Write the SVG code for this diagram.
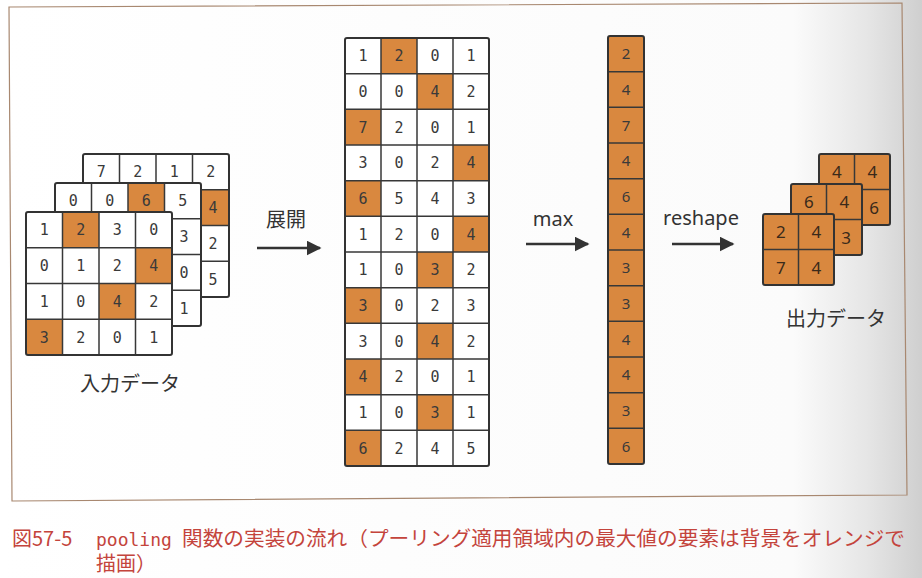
<svg xmlns="http://www.w3.org/2000/svg" width="922" height="578" viewBox="0 0 922 578">
<defs>
<linearGradient id="page" x1="0" y1="0" x2="1" y2="0">
<stop offset="0" stop-color="#ffffff"/>
<stop offset="0.86" stop-color="#fbfbfb"/>
<stop offset="0.94" stop-color="#e6e6e6"/>
<stop offset="1" stop-color="#cfcfcf"/>
</linearGradient>
<marker id="arr" viewBox="0 0 10 10" refX="9" refY="5" markerWidth="6" markerHeight="6" markerUnits="strokeWidth" orient="auto">
<path d="M0,0 L10,5 L0,10 z" fill="#333"/>
</marker>
</defs>
<style>
.w{fill:#ffffff}
.o{fill:#d9883f}
.g{fill:none;stroke:#383838;stroke-width:1.5}
.b{fill:none;stroke:#333;stroke-width:2}
.m{font-family:"DejaVu Sans Mono",monospace;font-size:15px;fill:#3a3a3a;text-anchor:middle}
.s{font-family:"Noto Sans","Liberation Sans",sans-serif;font-size:15px;fill:#3a3a3a;text-anchor:middle}
.so{font-family:"Noto Sans","Liberation Sans",sans-serif;font-size:17px;fill:#3a2a1a;text-anchor:middle}
.lbl{font-family:"Noto Sans","Noto Sans CJK JP",sans-serif;font-size:20px;fill:#333;text-anchor:middle}
.cap{font-family:"Noto Sans CJK JP",sans-serif;font-size:20px;fill:#c4443c}
.capm{font-family:"DejaVu Sans Mono","Liberation Mono",monospace;font-size:18px;fill:#c4443c}
.ln{stroke:#333;stroke-width:2.5;fill:none}
</style>
<rect x="0" y="0" width="922" height="578" fill="url(#page)"/>
<path d="M9,7 L902,3 L907,495 L12,501 Z" fill="none" stroke="#a88870" stroke-width="1.2"/>

<g id="input-data">
<g id="input-ch3">
<rect class="w" x="83" y="154" width="146" height="143"/>
<rect class="o" x="192.5" y="189.75" width="36.5" height="35.75"/>
<path class="g" d="M119.5,154V297M156,154V297M192.5,154V297M83,189.75H229M83,225.5H229M83,261.25H229"/>
<rect class="b" x="83" y="154" width="146" height="143" rx="2"/>
<text class="m" x="101.25" y="177.3">7</text>
<text class="m" x="137.75" y="177.3">2</text>
<text class="m" x="174.25" y="177.3">1</text>
<text class="m" x="210.75" y="177.3">2</text>
<text class="m" x="213" y="213">4</text>
<text class="m" x="213" y="248.8">2</text>
<text class="m" x="213" y="284.5">5</text>
</g>
<g id="input-ch2">
<rect class="w" x="55" y="183" width="146" height="143"/>
<rect class="o" x="128" y="183" width="36.5" height="35.75"/>
<path class="g" d="M91.5,183V326M128,183V326M164.5,183V326M55,218.75H201M55,254.5H201M55,290.25H201"/>
<rect class="b" x="55" y="183" width="146" height="143" rx="2"/>
<text class="m" x="73.25" y="206.3">0</text>
<text class="m" x="109.75" y="206.3">0</text>
<text class="m" x="146.25" y="206.3">6</text>
<text class="m" x="182.75" y="206.3">5</text>
<text class="m" x="184" y="242">3</text>
<text class="m" x="184" y="277.8">0</text>
<text class="m" x="184" y="313.5">1</text>
</g>
<g id="input-ch1">
<rect class="w" x="26" y="212" width="146" height="143"/>
<rect class="o" x="62.5" y="212" width="36.5" height="35.75"/>
<rect class="o" x="135.5" y="247.75" width="36.5" height="35.75"/>
<rect class="o" x="99" y="283.5" width="36.5" height="35.75"/>
<rect class="o" x="26" y="319.25" width="36.5" height="35.75"/>
<path class="g" d="M62.5,212V355M99,212V355M135.5,212V355M26,247.75H172M26,283.5H172M26,319.25H172"/>
<rect class="b" x="26" y="212" width="146" height="143" rx="2"/>
<text class="m" x="44.25" y="235.3">1</text>
<text class="m" x="80.75" y="235.3">2</text>
<text class="m" x="117.25" y="235.3">3</text>
<text class="m" x="153.75" y="235.3">0</text>
<text class="m" x="44.25" y="271">0</text>
<text class="m" x="80.75" y="271">1</text>
<text class="m" x="117.25" y="271">2</text>
<text class="m" x="153.75" y="271">4</text>
<text class="m" x="44.25" y="306.8">1</text>
<text class="m" x="80.75" y="306.8">0</text>
<text class="m" x="117.25" y="306.8">4</text>
<text class="m" x="153.75" y="306.8">2</text>
<text class="m" x="44.25" y="342.5">3</text>
<text class="m" x="80.75" y="342.5">2</text>
<text class="m" x="117.25" y="342.5">0</text>
<text class="m" x="153.75" y="342.5">1</text>
</g>
<text class="lbl" x="130" y="391">入力データ</text>
</g>

<g id="expanded">
<rect class="w" x="345" y="38" width="144" height="428"/>
<rect class="o" x="381" y="38" width="36" height="35.67"/>
<rect class="o" x="417" y="73.67" width="36" height="35.67"/>
<rect class="o" x="345" y="109.33" width="36" height="35.67"/>
<rect class="o" x="453" y="145" width="36" height="35.67"/>
<rect class="o" x="345" y="180.67" width="36" height="35.67"/>
<rect class="o" x="453" y="216.33" width="36" height="35.67"/>
<rect class="o" x="417" y="252" width="36" height="35.67"/>
<rect class="o" x="345" y="287.67" width="36" height="35.67"/>
<rect class="o" x="417" y="323.33" width="36" height="35.67"/>
<rect class="o" x="345" y="359" width="36" height="35.67"/>
<rect class="o" x="417" y="394.67" width="36" height="35.67"/>
<rect class="o" x="345" y="430.33" width="36" height="35.67"/>
<path class="g" d="M381,38V466M417,38V466M453,38V466M345,73.67H489M345,109.33H489M345,145H489M345,180.67H489M345,216.33H489M345,252H489M345,287.67H489M345,323.33H489M345,359H489M345,394.67H489M345,430.33H489"/>
<rect class="b" x="345" y="38" width="144" height="428" rx="2"/>
<text class="m" x="363" y="61.2">1</text><text class="m" x="399" y="61.2">2</text><text class="m" x="435" y="61.2">0</text><text class="m" x="471" y="61.2">1</text>
<text class="m" x="363" y="96.9">0</text><text class="m" x="399" y="96.9">0</text><text class="m" x="435" y="96.9">4</text><text class="m" x="471" y="96.9">2</text>
<text class="m" x="363" y="132.6">7</text><text class="m" x="399" y="132.6">2</text><text class="m" x="435" y="132.6">0</text><text class="m" x="471" y="132.6">1</text>
<text class="m" x="363" y="168.2">3</text><text class="m" x="399" y="168.2">0</text><text class="m" x="435" y="168.2">2</text><text class="m" x="471" y="168.2">4</text>
<text class="m" x="363" y="203.9">6</text><text class="m" x="399" y="203.9">5</text><text class="m" x="435" y="203.9">4</text><text class="m" x="471" y="203.9">3</text>
<text class="m" x="363" y="239.6">1</text><text class="m" x="399" y="239.6">2</text><text class="m" x="435" y="239.6">0</text><text class="m" x="471" y="239.6">4</text>
<text class="m" x="363" y="275.2">1</text><text class="m" x="399" y="275.2">0</text><text class="m" x="435" y="275.2">3</text><text class="m" x="471" y="275.2">2</text>
<text class="m" x="363" y="310.9">3</text><text class="m" x="399" y="310.9">0</text><text class="m" x="435" y="310.9">2</text><text class="m" x="471" y="310.9">3</text>
<text class="m" x="363" y="346.6">3</text><text class="m" x="399" y="346.6">0</text><text class="m" x="435" y="346.6">4</text><text class="m" x="471" y="346.6">2</text>
<text class="m" x="363" y="382.2">4</text><text class="m" x="399" y="382.2">2</text><text class="m" x="435" y="382.2">0</text><text class="m" x="471" y="382.2">1</text>
<text class="m" x="363" y="417.9">1</text><text class="m" x="399" y="417.9">0</text><text class="m" x="435" y="417.9">3</text><text class="m" x="471" y="417.9">1</text>
<text class="m" x="363" y="453.6">6</text><text class="m" x="399" y="453.6">2</text><text class="m" x="435" y="453.6">4</text><text class="m" x="471" y="453.6">5</text>
</g>

<g id="max-column">
<rect class="o" x="608" y="36" width="36" height="428"/>
<path class="g" d="M608,71.67H644M608,107.33H644M608,143H644M608,178.67H644M608,214.33H644M608,250H644M608,285.67H644M608,321.33H644M608,357H644M608,392.67H644M608,428.33H644"/>
<rect class="b" x="608" y="36" width="36" height="428" rx="2"/>
<text class="s" x="626" y="59.3">2</text>
<text class="s" x="626" y="95">4</text>
<text class="s" x="626" y="130.7">7</text>
<text class="s" x="626" y="166.3">4</text>
<text class="s" x="626" y="202">6</text>
<text class="s" x="626" y="237.7">4</text>
<text class="s" x="626" y="273.3">3</text>
<text class="s" x="626" y="309">3</text>
<text class="s" x="626" y="344.7">4</text>
<text class="s" x="626" y="380.3">4</text>
<text class="s" x="626" y="416">3</text>
<text class="s" x="626" y="451.7">6</text>
</g>

<g id="output-data">
<g id="output-ch3">
<rect class="o" x="819" y="154" width="71" height="71"/>
<path class="g" d="M854.5,154V225M819,189.5H890"/>
<rect class="b" x="819" y="154" width="71" height="71" rx="2"/>
<text class="so" x="836.75" y="178">4</text>
<text class="so" x="872.25" y="178">4</text>
<text class="so" x="874" y="213.5">6</text>
</g>
<g id="output-ch2">
<rect class="o" x="791" y="184" width="71" height="71"/>
<path class="g" d="M826.5,184V255M791,219.5H862"/>
<rect class="b" x="791" y="184" width="71" height="71" rx="2"/>
<text class="so" x="808.75" y="208">6</text>
<text class="so" x="844.25" y="208">4</text>
<text class="so" x="846" y="243.5">3</text>
</g>
<g id="output-ch1">
<rect class="o" x="763" y="214" width="71" height="71"/>
<path class="g" d="M798.5,214V285M763,249.5H834"/>
<rect class="b" x="763" y="214" width="71" height="71" rx="2"/>
<text class="so" x="780.75" y="238">2</text>
<text class="so" x="816.25" y="238">4</text>
<text class="so" x="780.75" y="273.5">7</text>
<text class="so" x="816.25" y="273.5">4</text>
</g>
<text class="lbl" x="836" y="326">出力データ</text>
</g>

<g id="connectors">
<line class="ln" x1="257" y1="248" x2="320" y2="248" marker-end="url(#arr)"/>
<text class="lbl" x="286" y="227">展開</text>
<line class="ln" x1="526" y1="244" x2="588" y2="244" marker-end="url(#arr)"/>
<text class="lbl" x="553" y="226">max</text>
<line class="ln" x1="672" y1="244" x2="733" y2="244" marker-end="url(#arr)"/>
<text class="lbl" x="701" y="225">reshape</text>
</g>

<g id="caption">
<text class="cap" x="12" y="546">図57-5</text>
<text class="capm" x="96" y="546">pooling</text>
<text class="cap" x="182" y="546" textLength="723" lengthAdjust="spacingAndGlyphs">関数の実装の流れ（プーリング適用領域内の最大値の要素は背景をオレンジで</text>
<text class="cap" x="96" y="571">描画）</text>
</g>
</svg>
